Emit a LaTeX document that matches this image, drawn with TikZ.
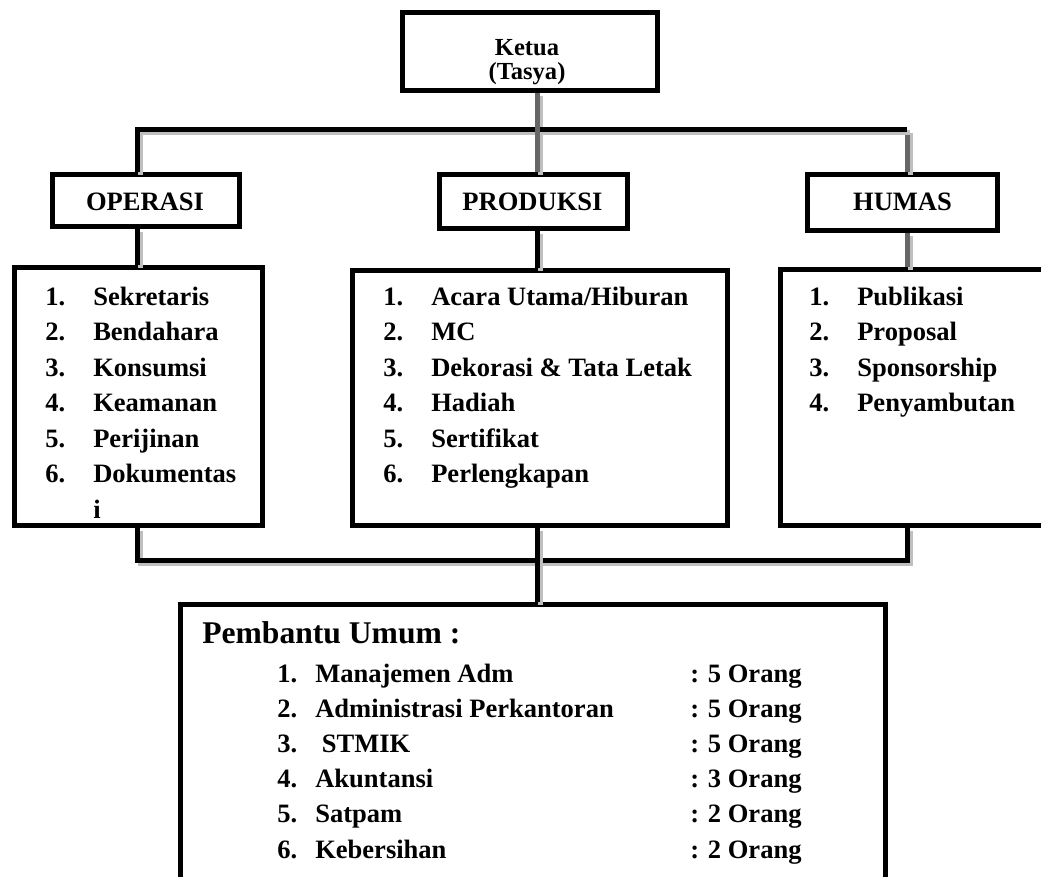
\documentclass[tikz,border=0pt]{standalone}
\usepackage{fontspec}
\setmainfont{Liberation Serif}
\definecolor{shadowgray}{HTML}{BFBFBF}
\definecolor{linegray}{HTML}{666666}
\newcommand\shpath[2]{\draw[shad] #2; \draw[#1] #2;}
\begin{document}
\begin{tikzpicture}[x=0.75pt,y=-0.75pt,
  box/.style={draw=black,line width=3.75pt,fill=white,inner sep=0pt,rectangle},
  lbl/.style={font=\fontsize{19.9}{24}\selectfont\bfseries,inner sep=0pt,anchor=base west},
  hdr/.style={font=\fontsize{19.9}{24}\selectfont\bfseries,inner sep=0pt,anchor=base},
  ttl/.style={font=\fontsize{18.4}{22}\selectfont\bfseries,inner sep=0pt,anchor=base},
  big/.style={font=\fontsize{23.7}{28}\selectfont\bfseries,inner sep=0pt,anchor=base west},
  conn/.style={line width=3.75pt,draw=black},
  conng/.style={line width=3.75pt,draw=linegray},
  shad/.style={line width=3.75pt,draw=shadowgray,transform canvas={xshift=2.25pt,yshift=-2.25pt}}
]
\useasboundingbox (0,0) rectangle (1041,877);
\clip (0,0) rectangle (1041,877);
\fill[white] (0,0) rectangle (1041,877);

% connector x positions and bus levels
\coordinate (lx) at (137,0);
\coordinate (mx) at (537,0);
\coordinate (rx) at (907,0);
\coordinate (busT) at (0,130);
\coordinate (busB) at (0,560);

% boxes
\node[box,minimum width=255*0.75pt,minimum height=78*0.75pt] (ketua) at (530,51.5) {};
\node[box,minimum width=187*0.75pt,minimum height=52*0.75pt] (operasi) at (146,200.5) {};
\node[box,minimum width=188*0.75pt,minimum height=54*0.75pt] (produksi) at (533.5,201.5) {};
\node[box,minimum width=190*0.75pt,minimum height=56*0.75pt] (humas) at (902.5,202.5) {};
\node[box,minimum width=248*0.75pt,minimum height=258*0.75pt] (oplist) at (138.5,396.5) {};
\node[box,minimum width=375*0.75pt,minimum height=255*0.75pt] (prlist) at (540,398) {};
\node[box,minimum width=300*0.75pt,minimum height=256*0.75pt] (humlist) at (930.5,397.5) {};
\node[box,minimum width=705*0.75pt,minimum height=300*0.75pt] (pembantu) at (533,754.5) {};

% top connectors
\shpath{conng}{(ketua.south -| mx) -- (produksi.north -| mx)}
\shpath{conng}{(rx |- busT) -- (humas.north -| rx)}
\shpath{conn}{(operasi.north -| lx) -- (lx |- busT) -- (rx |- busT)}
\draw[conng] (ketua.south -| mx) -- (produksi.north -| mx);
% header to list connectors
\shpath{conn}{(operasi.south -| lx) -- (oplist.north -| lx)}
\shpath{conn}{(produksi.south -| mx) -- (prlist.north -| mx)}
\shpath{conng}{(humas.south -| rx) -- (humlist.north -| rx)}
% bottom connectors
\shpath{conn}{(oplist.south -| lx) -- (lx |- busB) -- (rx |- busB) -- (humlist.south -| rx)}
\shpath{conn}{(prlist.south -| mx) -- (pembantu.north -| mx)}

% texts
\node[ttl] (ketuaT1) at (527,56) {Ketua};
\node[ttl] (ketuaT2) at (527,80) {(Tasya)};
\node[hdr] (operasiT) at (145,211) {OPERASI};
\node[hdr] (produksiT) at (532.5,211) {PRODUKSI};
\node[hdr] (humasT) at (902.5,211) {HUMAS};

\foreach \t [count=\i] in {Sekretaris,Bendahara,Konsumsi,Keamanan,Perijinan,Dokumentas}{
  \node[lbl] (opn\i) at (45,{305+35.5*(\i-1)}) {\i.};
  \node[lbl] (opt\i) at (93,{305+35.5*(\i-1)}) {\t};
}
\node[lbl] (opt7) at (93,518) {i};

\foreach \t [count=\i] in {{Acara Utama/Hiburan},MC,{Dekorasi \& Tata Letak},Hadiah,Sertifikat,Perlengkapan}{
  \node[lbl] (prn\i) at (383,{305+35.5*(\i-1)}) {\i.};
  \node[lbl] (prt\i) at (431,{305+35.5*(\i-1)}) {\t};
}

\foreach \t [count=\i] in {Publikasi,Proposal,Sponsorship,Penyambutan}{
  \node[lbl] (hun\i) at (809,{305+35.5*(\i-1)}) {\i.};
  \node[lbl] (hut\i) at (857,{305+35.5*(\i-1)}) {\t};
}

\node[big] (pembT) at (202,643) {Pembantu Umum :};
\foreach \t/\n [count=\i] in {{Manajemen Adm}/5,{Administrasi Perkantoran}/5,{\ STMIK}/5,Akuntansi/3,Satpam/2,Kebersihan/2}{
  \node[lbl] (pbn\i) at (277,{682+35.2*(\i-1)}) {\i.};
  \node[lbl] (pbt\i) at (315,{682+35.2*(\i-1)}) {\t};
  \node[lbl] (pbc\i) at (690,{682+35.2*(\i-1)}) {: \n\ Orang};
}
\end{tikzpicture}
\end{document}
